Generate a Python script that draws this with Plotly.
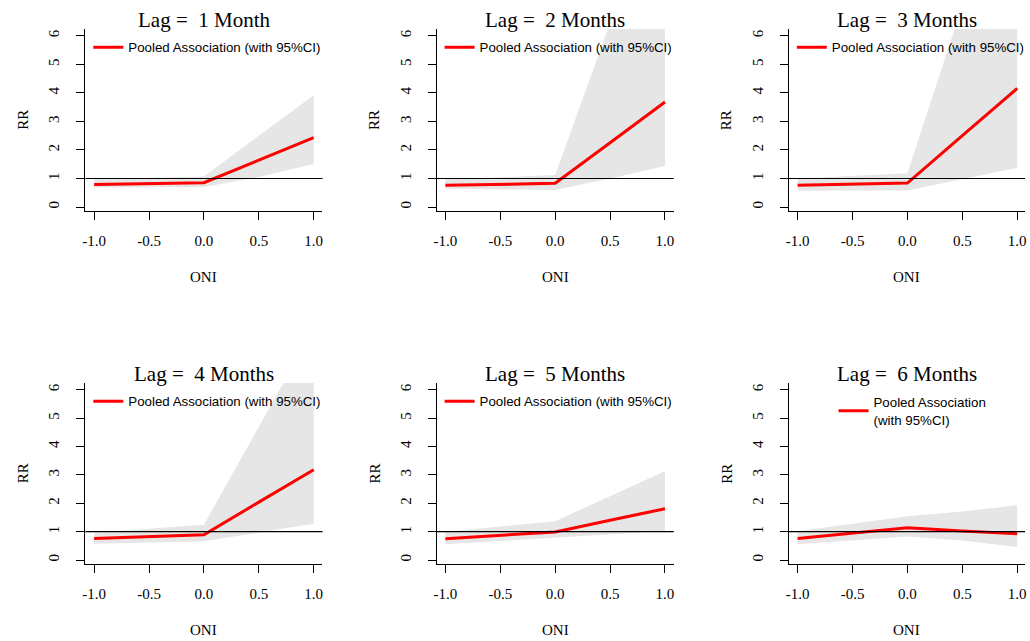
import plotly.graph_objects as go

W, H = 1030, 641

# ---------------- data ----------------
oni = [-1.0, -0.5, 0.0, 0.5, 1.0]
lag_titles = ["Lag =\u00a0 1 Month", "Lag =\u00a0 2 Months", "Lag =\u00a0 3 Months",
              "Lag =\u00a0 4 Months", "Lag =\u00a0 5 Months", "Lag =\u00a0 6 Months"]

rr_lag1 = [0.79, 0.82, 0.85, 1.64, 2.43]
lo_lag1 = [0.68, 0.69, 0.70, 1.05, 1.51]
hi_lag1 = [0.97, 1.02, 1.07, 2.50, 3.92]

rr_lag2 = [0.76, 0.79, 0.83, 2.25, 3.68]
lo_lag2 = [0.64, 0.62, 0.60, 1.00, 1.44]
hi_lag2 = [0.97, 1.05, 1.12, 6.45, 11.8]

rr_lag3 = [0.76, 0.80, 0.84, 2.50, 4.16]
lo_lag3 = [0.57, 0.58, 0.58, 0.97, 1.38]
hi_lag3 = [1.00, 1.09, 1.18, 7.07, 12.95]

rr_lag4 = [0.76, 0.83, 0.89, 2.04, 3.18]
lo_lag4 = [0.57, 0.62, 0.66, 0.98, 1.28]
hi_lag4 = [0.96, 1.10, 1.24, 4.70, 8.14]

rr_lag5 = [0.75, 0.87, 0.99, 1.40, 1.81]
lo_lag5 = [0.56, 0.67, 0.77, 0.90, 1.02]
hi_lag5 = [0.99, 1.18, 1.37, 2.25, 3.14]

rr_lag6 = [0.76, 0.95, 1.14, 1.02, 0.93]
lo_lag6 = [0.56, 0.69, 0.83, 0.69, 0.46]
hi_lag6 = [1.01, 1.28, 1.54, 1.71, 1.93]

rr_all = [rr_lag1, rr_lag2, rr_lag3, rr_lag4, rr_lag5, rr_lag6]
lo_all = [lo_lag1, lo_lag2, lo_lag3, lo_lag4, lo_lag5, lo_lag6]
hi_all = [hi_lag1, hi_lag2, hi_lag3, hi_lag4, hi_lag5, hi_lag6]

x_tickvals = [-1.0, -0.5, 0.0, 0.5, 1.0]
x_ticktext = ["-1.0", "-0.5", "0.0", "0.5", "1.0"]
y_tickvals = [0, 1, 2, 3, 4, 5, 6]
y_ticktext = ["0", "1", "2", "3", "4", "5", "6"]
legend_label = "Pooled Association (with 95%CI)"
legend_label_wrapped = "Pooled Association<br>(with 95%CI)"

# ---------------- layout geometry (pixels) ----------------
col_px = [(83, 322), (437, 676), (792, 1030)]
row_px = [(29, 211), (383, 564)]

def fx(p):
    return p / W

def fy(p):
    return 1 - p / H

SERIF = "Liberation Serif, Times New Roman, serif"
SANS = "Liberation Sans, Arial, sans-serif"
RED = "#FF0000"
GREY = "#E6E6E6"

fig = go.Figure()
layout = dict(
    width=W, height=H,
    margin=dict(l=0, r=0, t=0, b=0),
    paper_bgcolor="white", plot_bgcolor="white",
    showlegend=True,
    annotations=[], shapes=[],
)

for i in range(6):
    r, c = divmod(i, 3)
    k = "" if i == 0 else str(i + 1)
    xa, ya = "x" + k, "y" + k
    x0p, x1p = col_px[c]
    y0p, y1p = row_px[r]
    xr_right = -1.08 + 2.16 * (x1p - x0p) / 239.0

    # CI band
    fig.add_trace(go.Scatter(
        x=oni + oni[::-1], y=hi_all[i] + lo_all[i][::-1],
        fill="toself", fillcolor=GREY, line=dict(width=0, color=GREY),
        mode="lines", hoverinfo="skip", showlegend=False,
        xaxis=xa, yaxis=ya))
    # pooled association
    leg = "legend" if i == 0 else "legend" + str(i + 1)
    fig.add_trace(go.Scatter(
        x=oni, y=rr_all[i], mode="lines",
        line=dict(color=RED, width=3),
        name=legend_label_wrapped if i == 5 else legend_label,
        showlegend=True, legend=leg,
        xaxis=xa, yaxis=ya))

    layout["xaxis" + k] = dict(
        domain=[fx(x0p), fx(x1p)], anchor=ya, range=[-1.08, xr_right],
        tickmode="array", tickvals=x_tickvals, ticktext=x_ticktext,
        ticks="outside", ticklen=8, tickwidth=1.2, tickcolor="black",
        showline=True, linecolor="black", linewidth=1.2,
        showgrid=False, zeroline=False,
        tickfont=dict(family=SERIF, size=15, color="black"),
        ticklabelstandoff=8,
    )
    layout["yaxis" + k] = dict(
        domain=[fy(y1p), fy(y0p)], anchor=xa, range=[-0.14, 6.24],
        tickmode="array", tickvals=y_tickvals, ticktext=y_ticktext,
        tickangle=-90,
        ticks="outside", ticklen=8, tickwidth=1.2, tickcolor="black",
        showline=True, linecolor="black", linewidth=1.2,
        showgrid=False, zeroline=False,
        tickfont=dict(family=SERIF, size=15, color="black"),
        ticklabelstandoff=11,
    )

    # reference line at RR = 1
    layout["shapes"].append(dict(
        type="line", xref=xa + " domain", yref=ya, x0=0, x1=1, y0=1, y1=1,
        line=dict(color="black", width=1.2), layer="above"))

    cx = (x0p + x1p) / 2
    # panel title
    layout["annotations"].append(dict(
        text=lag_titles[i], xref="paper", yref="paper",
        x=fx(cx), y=fy(y0p - 9), xanchor="center", yanchor="middle",
        showarrow=False, font=dict(family=SERIF, size=21, color="black")))
    # x axis title
    layout["annotations"].append(dict(
        text="ONI", xref="paper", yref="paper",
        x=fx(cx), y=fy(y1p + 66), xanchor="center", yanchor="middle",
        showarrow=False, font=dict(family=SERIF, size=15, color="black")))
    # y axis title
    layout["annotations"].append(dict(
        text="RR", xref="paper", yref="paper", textangle=-90,
        x=fx(x0p - 63), y=fy((y0p + y1p) / 2), xanchor="center", yanchor="middle",
        showarrow=False, font=dict(family=SERIF, size=15, color="black")))

    # legend box
    if i == 5:
        lx, ly = x0p + 45, y0p + 4
    else:
        lx, ly = x0p + 3, y0p + 3
    layout[leg] = dict(
        x=fx(lx), y=fy(ly), xanchor="left", yanchor="top",
        bgcolor="rgba(0,0,0,0)", borderwidth=0,
        font=dict(family=SANS, size=13.3, color="black"),
        itemwidth=30, valign="middle",
    )

fig.update_layout(**layout)
fig.write_html(
    "out.html",
    config={"displayModeBar": False},
    post_script="document.body.style.margin='0';document.body.style.padding='0';"
                "document.body.style.overflow='hidden';",
)
